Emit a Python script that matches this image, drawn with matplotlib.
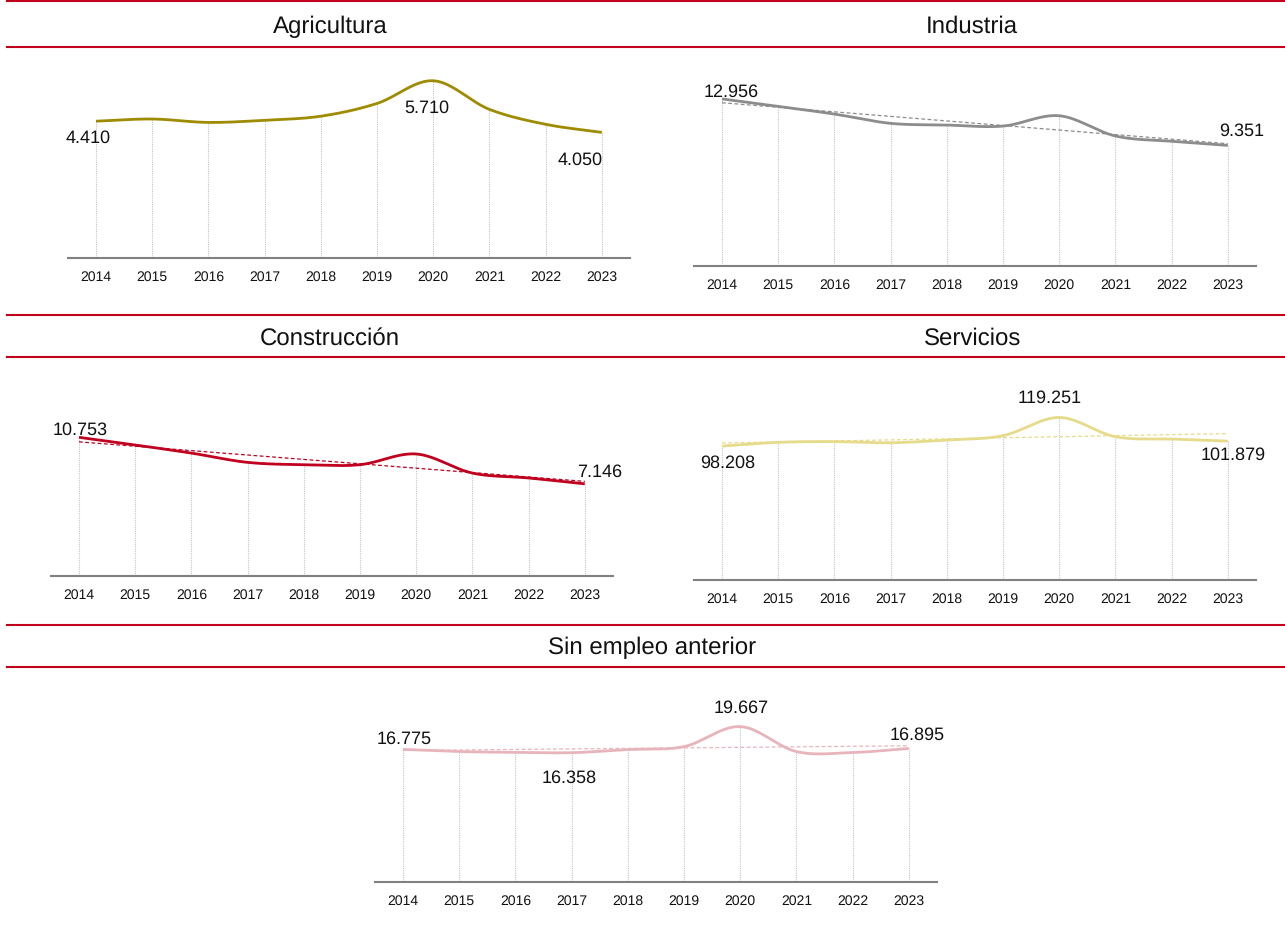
import numpy as np
import matplotlib
matplotlib.use("Agg")
import matplotlib.pyplot as plt
from matplotlib.lines import Line2D

plt.rcParams['font.family'] = ['Liberation Sans', 'DejaVu Sans']
plt.rcParams['text.hinting'] = 'no_hinting'
plt.rcParams['text.hinting_factor'] = 1

years = list(range(2014, 2024))
agricultura = [4410, 4480, 4370, 4440, 4570, 4980, 5710, 4790, 4310, 4050]
industria = [12956, 12380, 11780, 11060, 10930, 10850, 11650, 10080, 9670, 9351]
construccion = [10753, 10160, 9530, 8810, 8630, 8630, 9460, 7980, 7600, 7146]
servicios = [98208, 101000, 101500, 100700, 102700, 105900, 119251, 105100, 103400, 101879]
sin_empleo = [16775, 16500, 16400, 16358, 16750, 17130, 19667, 16500, 16380, 16895]

titles = ["Agricultura", "Industria", "Construcción", "Servicios", "Sin empleo anterior"]

W, H = 1285, 928
RED = '#c0001e'


def box(left, top, right, bottom):
    return [left / W, 1 - bottom / H, (right - left) / W, (bottom - top) / H]


def smooth(x, y, n=40):
    # catmull-rom spline through the points
    x = np.asarray(x, float)
    y = np.asarray(y, float)
    h = np.diff(x)
    m = np.zeros(len(x))
    m[1:-1] = (y[2:] - y[:-2]) / (x[2:] - x[:-2])
    m[0] = (y[1] - y[0]) / h[0]
    m[-1] = (y[-1] - y[-2]) / h[-1]
    xs, ys = [], []
    for i in range(len(x) - 1):
        t = np.linspace(0, 1, n)
        h00 = 2 * t**3 - 3 * t**2 + 1
        h10 = t**3 - 2 * t**2 + t
        h01 = -2 * t**3 + 3 * t**2
        h11 = t**3 - t**2
        xs.append(x[i] + t * h[i])
        ys.append(h00 * y[i] + h10 * h[i] * m[i] + h01 * y[i + 1] + h11 * h[i] * m[i + 1])
    return np.concatenate(xs), np.concatenate(ys)


def fmt(v):
    return f"{v:,}".replace(",", ".")


# layout: axes left px, axes top px, axis line px, ymax, colour, trend, label offsets (px)
panels = [
    (agricultura, 67.9, 60, 259.3, 6410, '#9e8b00', False,
     {0: (-8, -16), 6: (-6, -26), 9: (-22, -27)}),
    (industria, 693.9, 60, 267, 16050, '#8c8c8c', True,
     {0: (9, 8), 9: (14, 15)}),
    (construccion, 50.9, 370, 577, 16050, '#c0001e', True,
     {0: (1, 8), 9: (15, 13)}),
    (servicios, 693.9, 370, 580.7, 154900, '#e6db8a', True,
     {0: (6, -16), 6: (-10, 20), 9: (5, -13)}),
    (sin_empleo, 374.9, 680, 882.7, 25700, '#e8b4bc', True,
     {0: (1, 11), 6: (1, 19), 3: (-2, -24), 9: (8, 14)}),
]

title_pos = [(330, 33), (972, 33), (330, 345), (973, 345), (652, 654)]
red_rows = [(1.5, 47.5), (316, 358), (626, 668)]

fig = plt.figure(figsize=(W / 100, H / 100), dpi=100)

for y0, y1 in red_rows:
    for yy in (y0, y1):
        fig.add_artist(Line2D([7 / W, 1], [1 - yy / H, 1 - yy / H],
                              transform=fig.transFigure, color=RED, lw=1.5))

for t, (tx, ty) in zip(titles, title_pos):
    fig.text(tx / W, 1 - ty / H, t, ha='center', va='baseline', fontsize=17, color='#111111')

for vals, left, top, bottom, ymax, color, trend, offs in panels:
    ax = fig.add_axes(box(left, top, left + 562, bottom))
    ax.set_xlim(2013.5, 2023.5)
    ax.set_ylim(0, ymax)
    ax.vlines(years, 0, vals, colors='#c4c4c4', linestyles=(0, (1, 1)), lw=0.8, zorder=1)
    if trend:
        k, b = np.polyfit(years, vals, 1)
        ax.plot([years[0], years[-1]], [k * years[0] + b, k * years[-1] + b],
                color=color, lw=0.9, ls=(0, (3, 2)), zorder=2)
    sx, sy = smooth(years, vals)
    ax.plot(sx, sy, color=color, lw=2.0, solid_capstyle='butt', zorder=3)

    idx = {0, len(vals) - 1, int(np.argmax(vals)), int(np.argmin(vals))}
    for i in idx:
        dx, dy = offs.get(i, (0, 10))
        ax.annotate(fmt(vals[i]), (years[i], vals[i]), xytext=(dx, dy),
                    textcoords='offset pixels', ha='center', va='center',
                    fontsize=13.2, color='#111111', zorder=4)

    for s in ('top', 'right', 'left'):
        ax.spines[s].set_visible(False)
    ax.spines['bottom'].set_color('#808080')
    ax.spines['bottom'].set_linewidth(1.5)
    ax.set_yticks([])
    ax.set_xticks(years)
    ax.set_xticklabels([str(y) for y in years])
    ax.tick_params(axis='x', length=0, pad=8.5, labelsize=10, labelcolor='#111111')
    ax.patch.set_alpha(0)

fig.savefig('out.png', dpi=100)
